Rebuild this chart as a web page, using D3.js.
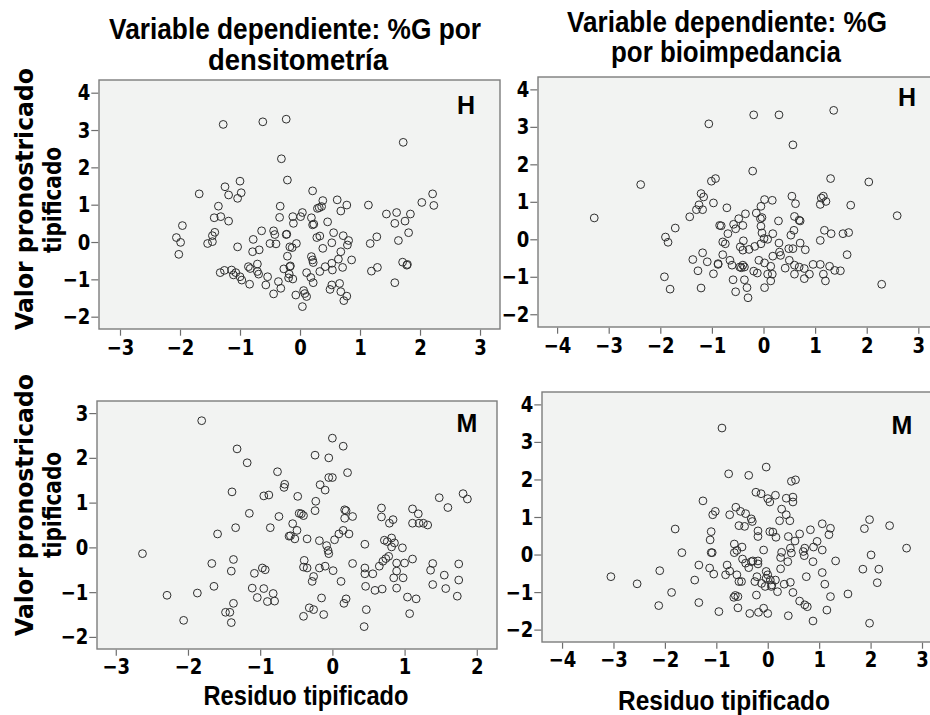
<!DOCTYPE html>
<html>
<head>
<meta charset="utf-8">
<script src="https://cdn.jsdelivr.net/npm/d3@7"></script>
<style>
  body { margin: 0; background: #fff; }
  svg { display: block; }
</style>
</head>
<body>
<svg id="chart" width="930" height="715"></svg>
<script>
// residuo tipificado (x), valor pronosticado tipificado (y)
const densHombres = [
  [-1.28,3.15],[-0.62,3.22],[-0.23,3.29],[-0.31,2.23],[-0.21,1.66],[-1.68,1.29],[-1.25,1.48],[-1.0,1.63],
  [-1.19,1.26],[-0.98,1.32],[-1.04,1.17],[-1.36,0.96],[-0.33,0.96],[-1.32,0.68],[-1.43,0.65],[-0.34,0.66],
  [-1.19,0.56],[-1.96,0.44],[-2.06,0.12],[-1.99,-0.01],[-2.02,-0.33],[-1.42,0.26],[-1.46,0.17],[-1.54,-0.04],
  [-1.46,0.01],[-1.04,-0.13],[-0.78,0.07],[-0.64,0.30],[-0.44,0.30],[-0.42,0.20],[-0.23,0.20],[-0.5,-0.04],
  [-0.4,-0.05],[-0.79,-0.26],[-0.68,-0.21],[-0.17,-0.13],[-0.21,-0.38],[-0.71,-0.59],[-0.86,-0.66],[-0.83,-0.71],
  [-0.71,-0.79],[-0.69,-0.86],[-0.27,-0.72],[-0.17,-0.66],[-0.18,-0.86],[-1.33,-0.82],[-1.26,-0.76],[-1.14,-0.75],
  [-1.11,-0.88],[-1.07,-0.82],[-1.0,-0.93],[-0.97,-1.02],[-0.84,-1.13],[-0.54,-0.93],[-0.57,-1.15],[-0.36,-1.06],
  [-0.32,-1.24],[-0.44,-1.39],[-0.19,-0.96],
  [1.72,2.67],[0.21,1.37],[0.38,1.11],[0.62,1.13],[0.78,0.99],[0.68,0.83],[0.32,0.92],[0.36,0.95],[0.29,0.90],
  [1.14,0.99],[1.44,0.75],[1.61,0.79],[1.84,0.75],[1.75,0.56],[1.58,0.5],[1.81,0.25],[2.03,1.06],[2.21,1.29],
  [2.23,0.98],[-0.12,0.68],[-0.11,0.5],[0.04,0.79],[0.01,0.68],[0.19,0.65],[0.21,0.46],[0.23,0.48],[0.46,0.54],
  [-0.22,0.21],[-0.06,-0.04],[-0.13,-0.15],[0.28,0.12],[0.33,0.16],[0.38,-0.17],[0.56,0.25],[0.72,0.17],
  [0.81,0.04],[0.79,-0.08],[0.53,-0.02],[0.68,-0.26],[0.86,-0.48],[1.17,-0.04],[1.28,0.14],[1.64,0.04],
  [0.19,-0.39],[0.21,-0.48],[0.22,-0.55],[0.42,-0.66],[0.33,-0.79],[0.54,-0.75],[0.53,-0.57],[0.64,-0.46],
  [0.71,-0.68],[-0.16,-0.64],[-0.12,-0.99],[0.11,-0.82],[0.18,-0.95],[0.22,-1.09],[-0.07,-1.42],[0.06,-1.30],
  [0.08,-1.38],[0.11,-1.46],[0.04,-1.73],[0.5,-1.27],[0.53,-1.15],[0.66,-1.11],[0.68,-1.33],[0.78,-1.45],
  [0.73,-1.57],[1.19,-0.78],[1.29,-0.68],[1.71,-0.54],[1.78,-0.62],[1.79,-0.60],[1.58,-1.09]
]

const bioHombres = [
  [-3.28,0.57],[-2.38,1.46],[-1.06,3.08],[-1.01,1.55],[-0.93,1.62],[-1.21,1.22],[-1.16,1.13],[-1.25,0.92],
  [-1.30,0.79],[-1.18,0.79],[-0.97,0.97],[-1.43,0.60],[-1.71,0.30],[-1.90,0.06],[-1.85,-0.08],[-0.85,0.37],
  [-1.18,-0.36],[-1.37,-0.54],[-1.09,-0.60],[-0.88,-0.67],[-1.27,-0.84],[-0.97,-0.92],[-1.92,-1.0],[-1.81,-1.33],
  [-1.21,-1.30],
  [-0.19,3.32],[0.30,3.32],[1.36,3.44],[0.57,2.52],[-0.21,1.82],[1.30,1.62],[2.04,1.53],[2.59,0.63],[2.29,-1.2],
  [-0.71,0.84],[0.02,1.06],[0.17,1.04],[-0.05,0.88],[0.55,1.15],[0.62,0.95],[1.12,1.10],[1.16,1.15],[1.21,1.01],
  [1.10,0.93],[1.69,0.91],[-0.14,0.70],[-0.06,0.55],[-0.03,0.58],[-0.35,0.68],[-0.48,0.55],[-0.58,0.40],
  [-0.40,0.37],[-0.54,0.28],[-0.82,0.36],[-0.69,0.15],[-0.79,-0.07],[-0.74,-0.12],[0.60,0.61],[0.69,0.51],
  [0.71,0.49],[0.29,0.49],[-0.05,0.35],[-0.03,0.17],[0.18,0.15],[0.01,0.02],[0.08,0.0],[-0.05,-0.12],
  [-0.39,-0.04],[-0.45,-0.20],[-0.40,-0.29],[-0.28,-0.27],[-0.17,-0.19],[0.30,-0.10],[0.59,0.24],[0.53,0.11],
  [0.49,-0.25],[0.57,-0.25],[0.71,-0.10],[0.81,-0.28],[0.31,-0.34],[0.33,-0.43],[0.18,-0.45],[1.18,0.24],
  [1.31,0.15],[1.54,0.15],[1.65,0.18],[1.10,-0.03],[1.62,-0.41],[-0.79,-0.41],[-0.65,-0.56],[-0.61,-0.69],
  [-0.46,-0.74],[-0.43,-0.76],[-0.40,-0.69],[-0.37,-0.74],[-0.88,-0.65],[-0.09,-0.56],[0.02,-0.63],[0.14,-0.72],
  [-0.19,-0.85],[-0.12,-0.90],[0.08,-0.93],[0.17,-0.93],[0.14,-1.11],[0.42,-0.77],[0.50,-0.56],[0.60,-0.69],
  [0.69,-0.74],[0.60,-0.93],[0.79,-0.78],[0.89,-0.93],[0.79,-1.05],[0.96,-0.67],[1.10,-0.67],[1.16,-0.93],
  [1.20,-1.11],[1.28,-0.72],[1.38,-0.83],[1.49,-0.84],[-0.59,-1.08],[-0.37,-1.08],[-0.32,-1.29],[-0.54,-1.40],
  [-0.30,-1.56],[0.02,-1.29]
]

const densMujeres = [
  [-1.81,2.83],[-1.32,2.20],[-1.18,1.89],[-0.76,1.69],[-0.66,1.41],[-0.67,1.34],[-1.39,1.24],[-0.95,1.15],
  [-0.88,1.17],[-1.15,0.76],[-0.74,0.69],[-1.34,0.44],[-0.86,0.44],[-1.59,0.30],[-0.60,0.25],[-2.63,-0.14],
  [-1.67,-0.36],[-1.37,-0.27],[-1.40,-0.53],[-1.08,-0.58],[-0.97,-0.46],[-0.93,-0.50],[-1.64,-0.87],[-1.87,-1.02],
  [-2.29,-1.07],[-1.11,-0.91],[-0.95,-0.92],[-0.82,-1.03],[-1.04,-1.12],[-0.90,-1.21],[-0.80,-1.20],[-1.37,-1.25],
  [-1.48,-1.45],[-1.42,-1.45],[-1.40,-1.68],[-2.06,-1.63],
  [0,2.44],[0.15,2.26],[-0.24,2.06],[-0.05,2.0],[0.21,1.67],[-0.05,1.56],[0,1.56],[-0.17,1.40],[-0.10,1.28],
  [-0.48,1.14],[-0.23,1.03],[-0.24,0.82],[-0.46,0.76],[-0.43,0.75],[-0.40,0.71],[-0.55,0.53],[-0.49,0.38],
  [-0.58,0.26],[-0.52,0.19],[-0.35,0.19],[-0.18,0.15],[-0.08,0.04],[-0.06,-0.07],[-0.05,-0.14],[0.03,0.17],
  [0.09,0.30],[0.15,0.38],[0.23,0.30],[0.17,0.84],[0.19,0.82],[0.17,0.65],[0.28,0.69],[0.68,0.88],[0.68,0.68],
  [0.79,0.54],[0.84,0.62],[1.11,0.86],[1.19,0.75],[1.11,0.54],[1.20,0.54],[1.26,0.54],[1.32,0.50],[1.48,1.11],
  [1.60,0.89],[1.81,1.20],[1.87,1.08],[0.45,0.07],[0.72,0.16],[0.76,0.13],[0.82,0.21],[0.86,0.10],[0.82,0.01],
  [0.97,-0.01],[-0.39,-0.29],[-0.40,-0.44],[-0.35,-0.46],[-0.26,-0.65],[-0.28,-0.76],[-0.18,-0.46],[-0.10,-0.42],
  [0.01,-0.52],[0.28,-0.36],[0.12,-0.76],[0.45,-0.46],[0.45,-0.59],[0.56,-0.59],[0.65,-0.42],[0.70,-0.31],
  [0.74,-0.25],[0.78,-0.20],[0.89,-0.35],[0.89,-0.53],[0.85,-0.68],[0.98,-0.68],[1.0,-0.35],[1.11,-0.26],
  [1.39,-0.36],[1.36,-0.51],[1.75,-0.37],[1.55,-0.62],[1.75,-0.73],[1.39,-0.83],[1.57,-0.92],[1.73,-1.09],
  [0.46,-0.87],[0.59,-0.96],[0.69,-0.93],[0.89,-0.91],[1.04,-1.11],[1.16,-1.15],[1.07,-1.48],[-0.15,-1.13],
  [0.19,-1.15],[0.16,-1.25],[-0.32,-1.35],[-0.26,-1.39],[-0.40,-1.54],[-0.12,-1.50],[0.47,-1.39],[0.44,-1.77]
]

const bioMujeres = [
  [-3.05,-0.59],[-2.54,-0.78],[-2.10,-0.43],[-2.12,-1.36],[-1.87,-1.01],[-1.80,0.68],[-1.67,0.05],[-1.42,-0.68],
  [-1.34,-0.28],[-1.34,-1.28],[-1.13,-0.36],[-1.05,-0.52],[-1.26,1.43],[-1.02,1.15],[-1.07,1.06],[-1.10,0.61],
  [-1.12,0.39],[-1.10,0.05],[-1.08,0.05],[-0.95,-1.52],[-0.89,3.37],
  [-0.03,2.33],[-0.76,2.15],[-0.37,2.11],[0.46,1.95],[0.54,1.99],[-0.23,1.66],[-0.13,1.62],[0.15,1.58],[0,1.49],
  [0.04,1.40],[0.36,1.50],[0.49,1.53],[0.49,1.40],[-0.74,1.06],[-0.62,1.26],[-0.53,1.15],[-0.43,1.09],[-0.32,0.95],
  [-0.30,0.88],[-0.56,0.77],[-0.45,0.75],[0.27,1.21],[0.36,1.06],[0.23,0.90],[0.43,0.90],[-0.19,0.63],[-0.19,0.48],
  [0.04,0.61],[0.10,0.60],[0.16,0.46],[0.40,0.48],[0.53,0.36],[0.62,0.55],[0.83,0.66],[1.06,0.82],[1.22,0.70],
  [1.19,0.53],[0.96,0.35],[0.89,0.20],[1.06,0.12],[0.72,0.17],[0.69,0.08],[0.71,-0.03],[0.44,0.17],[0.46,0.04],
  [0.27,0.06],[0.25,-0.08],[0.39,-0.19],[0.25,-0.38],[-0.08,0.12],[-0.65,0.28],[-0.65,0.05],[-0.60,0.11],
  [-0.50,0.20],[-0.49,-0.12],[-0.43,-0.23],[-0.37,-0.35],[-0.32,-0.19],[-0.29,-0.17],[-0.19,-0.17],[-0.19,-0.25],
  [-0.79,-0.28],[-0.82,-0.54],[-0.74,-0.44],[-0.60,-0.54],[-0.56,-0.72],[-0.51,-0.72],[-0.25,-0.72],[-0.21,-0.59],
  [-0.03,-0.45],[0,-0.54],[-0.03,-0.63],[0.05,-0.68],[0.15,-0.68],[0.08,-0.81],[0.07,-0.85],[-0.05,-0.85],
  [-0.12,-0.77],[0.32,-0.79],[0.44,-0.74],[0.19,-0.99],[0.49,-1.01],[0.75,-0.59],[0.88,-0.19],[1.06,-0.48],
  [1.32,-0.17],[1.11,-0.79],[1.22,-1.12],[1.56,-1.05],[0.62,-1.24],[0.72,-1.34],[0.77,-1.39],[1.15,-1.48],
  [0.88,-1.77],[0.40,-1.63],[-0.63,-1.09],[-0.66,-1.14],[-0.58,-1.12],[-0.22,-1.08],[-0.58,-1.42],[-0.35,-1.57],
  [-0.18,-1.54],[-0.08,-1.43],[0,-1.57],[1.88,0.69],[1.98,0.93],[2.37,0.77],[2.70,0.17],[2.01,-0.01],
  [1.85,-0.39],[2.16,-0.39],[2.13,-0.75],[1.98,-1.83]
]

const yTicksTop = [-2, -1, 0, 1, 2, 3, 4]
const yTicksBottomLeft = [-2, -1, 0, 1, 2, 3]
const xTicksDens = [-3, -2, -1, 0, 1, 2, 3]
const xTicksDensM = [-3, -2, -1, 0, 1, 2]
const xTicksBio = [-4, -3, -2, -1, 0, 1, 2, 3]

const panels = [
  { data: densHombres, letter: "H", left: 99, top: 80, w: 401, h: 249,
    xDomain: [-3.35, 3.333], yDomain: [-2.33, 4.34], xTicks: xTicksDens, yTicks: yTicksTop,
    letterX: 466, letterY: 114, pad: 4 },
  { data: bioHombres, letter: "H", left: 538, top: 77, w: 402, h: 250,
    xDomain: [-4.37, 3.42], yDomain: [-2.34, 4.33], xTicks: xTicksBio, yTicks: yTicksTop,
    letterX: 907, letterY: 106, pad: 4 },
  { data: densMujeres, letter: "M", left: 97, top: 401, w: 400, h: 248,
    xDomain: [-3.26, 2.28], yDomain: [-2.27, 3.27], xTicks: xTicksDensM, yTicks: yTicksBottomLeft,
    letterX: 467, letterY: 432, pad: 3 },
  { data: bioMujeres, letter: "M", left: 542, top: 392, w: 398, h: 250,
    xDomain: [-4.39, 3.35], yDomain: [-2.33, 4.33], xTicks: xTicksBio, yTicks: yTicksTop,
    letterX: 902, letterY: 434, pad: 3 }
]

const svg = d3.select("#chart")
const tickFont = "'DejaVu Sans', Verdana, sans-serif"
const titleFont = "'Liberation Sans', Arial, sans-serif"

// estrecha las etiquetas de los ejes (las del original son mas angostas que DejaVu)
function squeeze(sel, k) {
  sel.each(function () {
    let t = d3.select(this)
    let x0 = Number(t.attr("x")) || 0
    t.attr("x", x0 / k).attr("transform", "scale(" + k + ",1)")
  })
}

function drawPanel(p) {
  let g = svg.append("g")
  let x = d3.scaleLinear().domain(p.xDomain).range([p.left, p.left + p.w])
  let y = d3.scaleLinear().domain(p.yDomain).range([p.top + p.h, p.top])

  g.append("rect")
    .attr("x", p.left).attr("y", p.top)
    .attr("width", p.w).attr("height", p.h)
    .attr("fill", "#f2f3f2")
    .attr("stroke", "#7d7d7d")
    .attr("stroke-width", 1.4)

  let xAxis = g.append("g")
    .attr("transform", "translate(0," + (p.top + p.h + 0.7) + ")")
    .call(d3.axisBottom(x).tickValues(p.xTicks).tickSize(6).tickPadding(p.pad).tickFormat(d3.format("d")))
  let yAxis = g.append("g")
    .attr("transform", "translate(" + (p.left - 0.7) + ",0)")
    .call(d3.axisLeft(y).tickValues(p.yTicks).tickSize(7).tickPadding(1).tickFormat(d3.format("d")))

  for (let ax of [xAxis, yAxis]) {
    ax.select(".domain").remove()
    ax.selectAll(".tick line").attr("stroke", "#6e6e6e").attr("stroke-width", 1.2)
    ax.selectAll(".tick text")
      .attr("fill", "#000")
      .style("font-family", tickFont)
      .style("font-weight", "bold")
      .style("font-size", "22px")
    squeeze(ax.selectAll(".tick text"), 0.82)
  }

  g.append("g").selectAll("circle")
    .data(p.data)
    .join("circle")
    .attr("cx", d => x(d[0]))
    .attr("cy", d => y(d[1]))
    .attr("r", 3.9)
    .attr("fill", "none")
    .attr("stroke", "#2e2e2e")
    .attr("stroke-width", 1)

  g.append("text")
    .attr("x", p.letterX).attr("y", p.letterY)
    .attr("text-anchor", "middle")
    .style("font-family", titleFont)
    .style("font-weight", "bold")
    .style("font-size", "25px")
    .text(p.letter)
}

panels.forEach(drawPanel)

// titulos: se comprimen horizontalmente con scale() hasta el ancho medido
function label(txt, cx, cy, size, len, family, rotate) {
  let t = svg.append("text")
    .attr("text-anchor", "middle")
    .style("font-family", family)
    .style("font-weight", "bold")
    .style("font-size", size + "px")
    .text(txt)
  let k = len / t.node().getComputedTextLength()
  let tr = "translate(" + cx + "," + cy + ")"
  if (rotate) tr += " rotate(-90)"
  t.attr("transform", tr + " scale(" + k + ",1)")
  return t
}

label("Variable dependiente: %G por", 295, 39, 30, 372, titleFont)
label("densitometría", 298, 70, 30, 180, titleFont)
label("Variable dependiente: %G", 727, 32, 30, 320, titleFont)
label("por bioimpedancia", 726, 62, 30, 230, titleFont)

label("Residuo tipificado", 306, 705, 28, 205, titleFont)
label("Residuo tipificado", 724, 710, 28, 212, titleFont)

label("Valor pronostricado", 33, 199, 24, 262, tickFont, true)
label("tipificado", 61, 200, 24, 106, tickFont, true)
label("Valor pronostricado", 33, 505, 24, 262, tickFont, true)
label("tipificado", 61, 505, 24, 106, tickFont, true)
</script>
</body>
</html>
